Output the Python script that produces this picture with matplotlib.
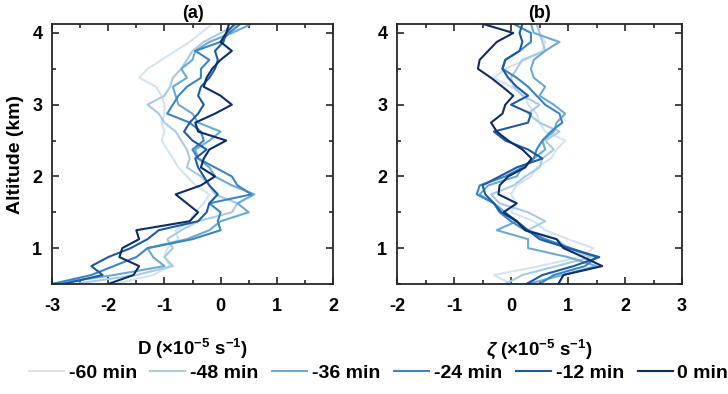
import matplotlib
matplotlib.use("Agg")
import matplotlib.pyplot as plt
from matplotlib.ticker import MultipleLocator

plt.rcParams['font.family'] = ['Liberation Sans', 'DejaVu Sans']
plt.rcParams['font.weight'] = 'bold'
plt.rcParams['axes.unicode_minus'] = False
plt.rcParams['mathtext.fontset'] = 'custom'
plt.rcParams['mathtext.bf'] = 'Liberation Sans:bold'
plt.rcParams['mathtext.rm'] = 'Liberation Sans:bold'
plt.rcParams['mathtext.it'] = 'Liberation Sans:italic'
plt.rcParams['mathtext.default'] = 'bf'

altitude = [0.5, 0.625, 0.75, 0.875, 1.0, 1.125, 1.25, 1.375, 1.5, 1.625,
            1.75, 1.875, 2.0, 2.125, 2.25, 2.375, 2.5, 2.625, 2.75, 2.875,
            3.0, 3.125, 3.25, 3.375, 3.5, 3.625, 3.75, 3.875, 4.0, 4.125]

labels = ['-60 min', '-48 min', '-36 min', '-24 min', '-12 min', '0 min']
colors = ['#d3e3f3', '#a7cbe4', '#6aaad6', '#3b85c3', '#1c5ba4', '#0b2e6a']

# Divergence D (x1e-5 s-1)
D_m60 = [-1.9, -1.2, -0.9, -1.0, -0.95, -0.75, -0.8, -0.55, -0.45, -0.3,
         -0.2, -0.45, -0.6, -0.75, -0.85, -0.95, -1.05, -1.0, -1.05, -1.0,
         -1.0, -1.05, -1.15, -1.45, -1.3, -1.05, -0.8, -0.55, -0.35, -0.15]
D_m48 = [-2.6, -1.5, -0.85, -1.0, -0.85, -0.95, -0.7, -0.4, 0.2, 0.3,
         -0.1, -0.2, -0.35, -0.6, -0.55, -0.6, -0.7, -0.8, -1.0, -1.1,
         -1.3, -1.0, -0.9, -0.85, -0.7, -0.6, -0.5, -0.3, 0.0, 0.3]
D_m36 = [-3.0, -1.9, -1.0, -1.2, -1.3, -0.6, -0.2, 0.0, 0.5, 0.3,
         0.6, 0.2, -0.1, -0.2, -0.4, -0.45, -0.2, 0.0, -0.4, -0.5,
         -0.75, -0.8, -0.85, -0.6, -0.7, -0.5, -0.45, -0.2, 0.2, 0.55]
D_m24 = [-3.0, -2.3, -1.9, -1.5, -1.3, -0.5, 0.0, -0.05, 0.0, -0.2,
         0.55, 0.3, 0.2, -0.1, -0.4, -0.5, -0.3, -0.35, -0.55, -0.95,
         -0.85, -0.75, -0.6, -0.35, -0.35, -0.2, -0.45, 0.0, 0.15, 0.35]
D_m12 = [-2.8, -2.1, -2.3, -2.0, -1.6, -1.3, -1.1, -0.4, -0.25, -0.2,
         -0.05, -0.2, -0.3, -0.4, -0.45, -0.25, -0.5, -0.65, -0.55, -0.4,
         -0.3, -0.4, -0.35, -0.2, -0.1, -0.05, -0.1, 0.05, 0.1, 0.25]
D_0 = [-2.0, -1.55, -1.45, -1.8, -1.75, -1.45, -1.5, -0.55, -0.4, -0.6,
       -0.8, -0.35, -0.1, -0.35, -0.3, -0.2, 0.1, -0.4, -0.45, -0.1,
       0.2, 0.0, -0.3, -0.25, -0.15, 0.0, 0.2, 0.0, 0.1, 0.15]

# Vorticity zeta (x1e-5 s-1)
Z_m60 = [0.0, -0.3, 0.5, 1.2, 1.45, 1.0, 0.6, 0.4, 0.0, 0.1,
         0.0, 0.1, 0.35, 0.45, 0.7, 0.8, 0.95, 0.6, 0.5, 0.45,
         0.3, 0.25, 0.0, -0.3, -0.1, 0.25, 0.55, 0.6, 0.5, 0.45]
Z_m48 = [-0.1, 0.2, 0.8, 1.4, 1.0, 0.8, 0.3, 0.6, 0.3, -0.2,
         -0.35, 0.05, 0.25, 0.5, 0.55, 0.75, 0.6, 0.85, 0.5, 0.3,
         0.5, 0.2, 0.05, 0.0, 0.1, 0.2, 0.6, 0.55, 0.5, 0.45]
Z_m36 = [0.3, 0.9, 1.5, 1.0, 0.3, 0.3, -0.25, 0.1, -0.1, -0.3,
         -0.55, -0.4, 0.1, 0.2, 0.4, 0.6, 0.55, 0.75, 0.8, 0.95,
         0.75, 0.5, 0.6, 0.4, 0.35, 0.4, 0.6, 0.85, 0.4, 0.35]
Z_m24 = [0.5, 0.75, 1.3, 1.5, 1.05, 0.6, 0.25, 0.0, -0.2, -0.3,
         -0.6, -0.55, -0.1, 0.2, 0.4, 0.45, 0.55, 0.7, 0.9, 0.85,
         0.6, 0.45, 0.3, 0.1, -0.15, -0.1, 0.15, 0.35, 0.35, 0.05]
Z_m12 = [0.27, 0.55, 1.1, 1.55, 1.0, 0.5, 0.3, 0.1, -0.17, -0.3,
         -0.45, -0.5, -0.2, 0.1, 0.55, 0.3, -0.1, -0.3, 0.3, 0.35,
         0.0, 0.3, 0.1, -0.05, -0.15, -0.1, 0.15, 0.2, 0.15, 0.2]
Z_0 = [0.83, 0.92, 1.6, 1.27, 0.92, 0.8, 0.25, 0.1, -0.13, 0.1,
       -0.22, -0.2, -0.05, 0.25, 0.36, 0.2, -0.05, -0.25, -0.35, -0.15,
       -0.1, 0.04, -0.15, -0.35, -0.58, -0.55, -0.4, -0.25, 0.04, -0.49]

D_series = [D_m60, D_m48, D_m36, D_m24, D_m12, D_0]
Z_series = [Z_m60, Z_m48, Z_m36, Z_m24, Z_m12, Z_0]

fig = plt.figure(figsize=(7.28, 3.94), dpi=100)
ax1 = fig.add_axes([52/728, 1-284/394, (333-52)/728, (284-24)/394])
ax2 = fig.add_axes([397/728, 1-284/394, (682-397)/728, (284-24)/394])

for ax, series, xlim, xlabel, title in [
        (ax1, D_series, (-3, 2), r'D (×10$^{-5}$ s$^{-1}$)', '(a)'),
        (ax2, Z_series, (-2, 3), r'$\mathit{\zeta}$ (×10$^{-5}$ s$^{-1}$)', '(b)')]:
    for vals, c, lab in zip(series, colors, labels):
        ax.plot(vals, altitude, color=c, lw=1.5, label=lab)
    ax.set_xlim(*xlim)
    ax.set_ylim(0.5, 4.125)
    ax.xaxis.set_major_locator(MultipleLocator(1))
    ax.xaxis.set_minor_locator(MultipleLocator(0.5))
    ax.yaxis.set_major_locator(MultipleLocator(1))
    ax.yaxis.set_minor_locator(MultipleLocator(0.5))
    ax.tick_params(which='both', direction='in', top=True, right=True, width=1.2,
                   labelsize=13, color='#262626')
    ax.tick_params(axis='x', which='major', pad=10)
    ax.tick_params(axis='y', which='major', pad=7)
    ax.tick_params(which='major', length=5)
    ax.tick_params(which='minor', length=3)
    for s in ax.spines.values():
        s.set_linewidth(1.3)
        s.set_color('#262626')
    ax.set_xlabel(xlabel, fontsize=13.5, fontweight='bold', labelpad=16)
    ax.set_title(title, fontsize=13, fontweight='bold', pad=4)

ax1.set_ylabel('Altitude (km)', fontsize=14, fontweight='bold', labelpad=6)

handles, labs = ax1.get_legend_handles_labels()
fig.legend(handles, labs, loc='center', bbox_to_anchor=(0.52, 1-373/394), ncol=6,
           frameon=False, handlelength=1.8, handletextpad=0.25,
           columnspacing=0.7, prop={'weight': 'bold', 'size': 14})

fig.savefig('out.png', dpi=100)
